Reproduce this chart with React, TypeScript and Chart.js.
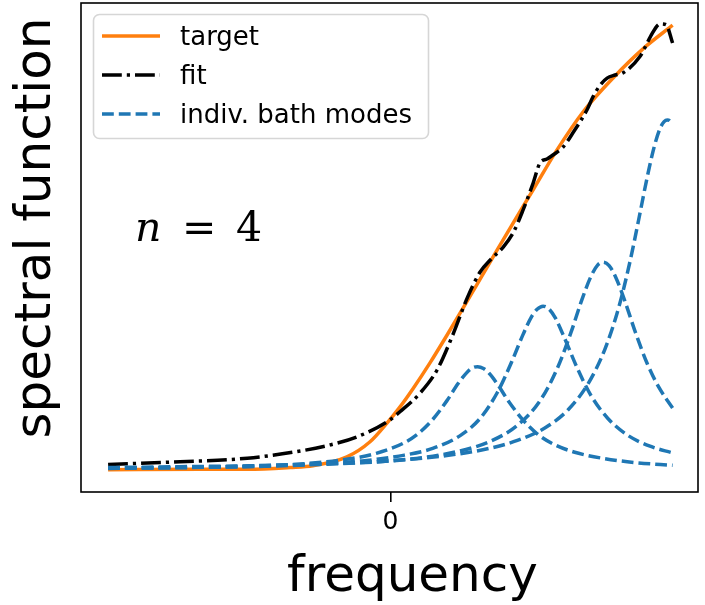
import React, { useEffect, useRef } from "react";
import { Chart, registerables } from "chart.js";

Chart.register(...registerables);

// ---------------- data ----------------
const xTickValues = [0];
const xTickLabels = ["0"];

const targetX = [-1.0, -0.674, -0.507, -0.355, -0.274, -0.154, -0.072, -0.012, 0.035, 0.082, 0.141, 0.2, 0.271, 0.318, 0.377, 0.436, 0.507, 0.59, 0.684, 0.79, 0.897, 1.0];
const targetY = [0.0, 0.001, 0.001, 0.005, 0.009, 0.029, 0.063, 0.105, 0.142, 0.184, 0.241, 0.302, 0.378, 0.429, 0.493, 0.556, 0.631, 0.719, 0.806, 0.882, 0.948, 1.0];

const fitX = [-1.0, -0.745, -0.507, -0.33, -0.213, -0.118, -0.011, 0.035, 0.106, 0.166, 0.221, 0.274, 0.318, 0.354, 0.4, 0.435, 0.47, 0.506, 0.53, 0.555, 0.576, 0.612, 0.647, 0.697, 0.718, 0.743, 0.768, 0.796, 0.825, 0.885, 0.903, 0.921, 0.956, 0.977, 1.0];
const fitY = [0.012, 0.018, 0.026, 0.041, 0.056, 0.074, 0.108, 0.131, 0.173, 0.225, 0.303, 0.389, 0.445, 0.472, 0.501, 0.533, 0.584, 0.645, 0.69, 0.699, 0.708, 0.726, 0.758, 0.81, 0.839, 0.865, 0.881, 0.888, 0.893, 0.93, 0.951, 0.974, 1.003, 1.001, 0.96];

const mode1X = [-1.0, -0.75, -0.5, -0.3, -0.15, -0.05, 0.05, 0.1, 0.15, 0.2, 0.24, 0.27, 0.29, 0.309, 0.33, 0.35, 0.38, 0.42, 0.47, 0.52, 0.58, 0.65, 0.75, 0.87, 1.0];
const mode1Y = [0.003, 0.005, 0.008, 0.014, 0.024, 0.037, 0.061, 0.082, 0.113, 0.155, 0.194, 0.218, 0.229, 0.232, 0.228, 0.217, 0.192, 0.153, 0.112, 0.081, 0.057, 0.04, 0.026, 0.016, 0.01];

const mode2X = [-1.0, -0.75, -0.5, -0.3, -0.1, 0.05, 0.15, 0.25, 0.32, 0.38, 0.43, 0.47, 0.5, 0.52, 0.541, 0.56, 0.585, 0.62, 0.66, 0.71, 0.77, 0.84, 0.92, 1.0];
const mode2Y = [0.004, 0.005, 0.008, 0.012, 0.02, 0.033, 0.048, 0.078, 0.117, 0.175, 0.243, 0.304, 0.344, 0.361, 0.368, 0.363, 0.341, 0.292, 0.232, 0.168, 0.116, 0.078, 0.053, 0.038];

const mode3X = [-1.0, -0.75, -0.5, -0.25, 0.0, 0.2, 0.35, 0.45, 0.53, 0.59, 0.64, 0.68, 0.71, 0.735, 0.754, 0.775, 0.8, 0.83, 0.87, 0.91, 0.95, 1.0];
const mode3Y = [0.004, 0.005, 0.007, 0.012, 0.02, 0.036, 0.063, 0.1, 0.155, 0.226, 0.309, 0.385, 0.434, 0.461, 0.467, 0.459, 0.431, 0.381, 0.306, 0.239, 0.187, 0.139];

const mode4X = [-1.0, -0.75, -0.5, -0.25, 0.0, 0.2, 0.35, 0.45, 0.55, 0.63, 0.7, 0.76, 0.81, 0.85, 0.88, 0.91, 0.935, 0.955, 0.97, 0.981, 0.99, 1.0];
const mode4Y = [0.005, 0.007, 0.009, 0.013, 0.02, 0.032, 0.048, 0.066, 0.095, 0.135, 0.193, 0.271, 0.367, 0.471, 0.563, 0.658, 0.727, 0.767, 0.783, 0.787, 0.785, 0.776];

const seriesLabels = ["target", "fit", "indiv. bath modes"];
const annotationText = ["n", "=", "4"];
const xAxisLabel = "frequency";
const yAxisLabel = "spectral function";

// ---------------- styling ----------------
const ORANGE = "#ff7f0e";
const BLUE = "#1f77b4";
const SANS = '"DejaVu Sans", sans-serif';
const SERIF = '"DejaVu Serif", serif';
const LW = 3.5;
const DASHED = [11.8, 5];
const DASHDOT = [19.8, 5, 3.2, 5];

function pts(xs: number[], ys: number[]) {
  return xs.map((x, i) => ({ x, y: ys[i] }));
}

const framePlugin = {
  id: "frame",
  afterDatasetsDraw(chart: any) {
    const { ctx, chartArea: a } = chart;
    ctx.save();
    ctx.strokeStyle = "#000";
    ctx.lineWidth = 1.6;
    ctx.setLineDash([]);
    ctx.strokeRect(a.left, a.top, a.right - a.left, a.bottom - a.top);
    ctx.restore();
  },
};

const decorPlugin = {
  id: "decor",
  afterDraw(chart: any) {
    const { ctx, chartArea: a } = chart;
    ctx.save();
    // ----- legend -----
    const lx = a.left + 12.5;
    const ly = a.top + 11.5;
    ctx.beginPath();
    (ctx as any).roundRect(lx, ly, 335, 124, 6);
    ctx.fillStyle = "rgba(255,255,255,0.8)";
    ctx.fill();
    ctx.strokeStyle = "#d6d6d6";
    ctx.lineWidth = 1.6;
    ctx.stroke();
    const seen = new Set<string>();
    const items = chart.data.datasets.filter((d: any) => {
      if (seen.has(d.label)) return false;
      seen.add(d.label);
      return true;
    });
    const order = seriesLabels.map((l) => items.find((d: any) => d.label === l)).filter(Boolean);
    order.forEach((d: any, i: number) => {
      const y = a.top + 33 + i * 39;
      ctx.beginPath();
      ctx.setLineDash(d.borderDash || []);
      ctx.lineCap = "butt";
      ctx.strokeStyle = d.borderColor;
      ctx.lineWidth = d.borderWidth;
      ctx.moveTo(a.left + 21, y);
      ctx.lineTo(a.left + 79, y);
      ctx.stroke();
      ctx.setLineDash([]);
      ctx.fillStyle = "#000";
      ctx.font = `26px ${SANS}`;
      ctx.textBaseline = "alphabetic";
      ctx.textAlign = "left";
      ctx.fillText(d.label, a.left + 99, y + 9.3);
    });

    // ----- axis labels -----
    const cx = (a.left + a.right) / 2;
    ctx.fillStyle = "#000";
    ctx.font = `50px ${SANS}`;
    ctx.textAlign = "center";
    ctx.textBaseline = "alphabetic";
    ctx.fillText(xAxisLabel, cx + 23, 591);
    ctx.save();
    ctx.translate(50, 228);
    ctx.rotate(-Math.PI / 2);
    ctx.fillText(yAxisLabel, 0, 0);
    ctx.restore();

    // ----- annotation n = 4 -----
    ctx.textAlign = "left";
    ctx.font = `italic 41px ${SERIF}`;
    ctx.fillText(annotationText[0], a.left + 54, 241);
    ctx.font = `41px ${SERIF}`;
    ctx.fillText(annotationText[1], a.left + 101, 241);
    ctx.fillText(annotationText[2], a.left + 155, 241);
    ctx.restore();
  },
};

export default function App() {
  const ref = useRef<HTMLCanvasElement>(null);
  useEffect(() => {
    if (!ref.current) return;
    const modeDs = (xs: number[], ys: number[], ord: number) => ({
      label: seriesLabels[2],
      data: pts(xs, ys),
      borderColor: BLUE,
      borderWidth: LW,
      borderDash: DASHED,
      borderCapStyle: "butt",
      borderJoinStyle: "round",
      pointRadius: 0,
      cubicInterpolationMode: "monotone",
      fill: false,
      order: ord,
    });
    const chart = new Chart(ref.current, {
      type: "line",
      data: {
        datasets: [
          {
            label: seriesLabels[0],
            data: pts(targetX, targetY),
            borderColor: ORANGE,
            borderWidth: LW,
            borderJoinStyle: "round",
            pointRadius: 0,
            cubicInterpolationMode: "monotone",
            fill: false,
            order: 10,
          },
          {
            label: seriesLabels[1],
            data: pts(fitX, fitY),
            borderColor: "#000",
            borderWidth: LW,
            borderDash: DASHDOT,
            borderCapStyle: "butt",
            borderJoinStyle: "round",
            pointRadius: 0,
            cubicInterpolationMode: "monotone",
            fill: false,
            order: 9,
          },
          modeDs(mode1X, mode1Y, 4),
          modeDs(mode2X, mode2Y, 3),
          modeDs(mode3X, mode3Y, 2),
          modeDs(mode4X, mode4Y, 1),
        ] as any,
      },
      options: {
        responsive: false,
        animation: false,
        devicePixelRatio: 1,
        layout: { padding: { left: 81, right: 7, top: 3, bottom: 0 } },
        plugins: { legend: { display: false }, tooltip: { enabled: false } },
        events: [],
        scales: {
          x: {
            type: "linear",
            min: -1.096,
            max: 1.09,
            afterBuildTicks: (axis: any) => {
              axis.ticks = xTickValues.map((v) => ({ value: v }));
            },
            afterFit: (axis: any) => {
              axis.height = 113;
            },
            ticks: {
              autoSkip: false,
              maxRotation: 0,
              color: "#000",
              padding: 5,
              font: { family: SANS, size: 25 },
              callback: (v: any) => {
                const i = xTickValues.indexOf(Number(v));
                return i >= 0 ? xTickLabels[i] : "";
              },
            },
            grid: {
              display: true,
              drawOnChartArea: false,
              drawTicks: true,
              tickLength: 10,
              color: "#000",
              lineWidth: 1.6,
            },
            border: { display: false },
          },
          y: {
            type: "linear",
            display: false,
            min: -0.05,
            max: 1.05,
          },
        },
      } as any,
      plugins: [framePlugin, decorPlugin],
    });
    return () => chart.destroy();
  }, []);
  return (
    <div style={{ position: "fixed", left: 0, top: 0, width: 705, height: 605, background: "#fff" }}>
      <canvas ref={ref} width={705} height={605} style={{ display: "block", width: 705, height: 605 }} />
    </div>
  );
}
